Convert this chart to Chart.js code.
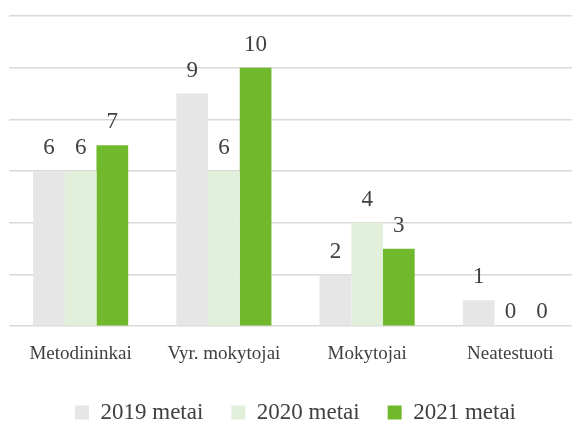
<!DOCTYPE html>
<html>
<head>
<meta charset="utf-8">
<script src="https://cdn.jsdelivr.net/npm/chart.js@4.4.0/dist/chart.umd.min.js"></script>
<style>
  html, body { margin: 0; padding: 0; background: #fff; overflow: hidden; }
  #wrap { width: 582px; height: 434px; }
</style>
</head>
<body>
<div id="wrap"><canvas id="barChart"></canvas></div>
<script>
const categories = ['Metodininkai', 'Vyr. mokytojai', 'Mokytojai', 'Neatestuoti'];
const series = ['2019 metai', '2020 metai', '2021 metai'];
const values2019 = [6, 9, 2, 1];
const values2020 = [6, 6, 4, 0];
const values2021 = [7, 10, 3, 0];
const colors = ['#e6e6e6', '#e2efda', '#70b82c'];

const serif = '"Liberation Serif", "DejaVu Serif", serif';

// etiketes virs stulpeliu
const valueLabels = {
    id: 'valueLabels',
    afterDatasetsDraw(chart) {
        const ctx = chart.ctx;
        ctx.save();
        ctx.font = '23px ' + serif;
        ctx.fillStyle = '#404040';
        ctx.textAlign = 'center';
        ctx.textBaseline = 'alphabetic';
        chart.data.datasets.forEach((ds, i) => {
            chart.getDatasetMeta(i).data.forEach((bar, j) => {
                const v = ds.data[j];
                const gap = v === 0 ? 8 : 17;
                ctx.fillText(String(v), bar.x, bar.y - gap);
            });
        });
        ctx.restore();
    }
};

new Chart(document.getElementById('barChart').getContext('2d'), {
    type: 'bar',
    data: {
        labels: categories,
        datasets: [
            { label: series[0], data: values2019, backgroundColor: colors[0] },
            { label: series[1], data: values2020, backgroundColor: colors[1] },
            { label: series[2], data: values2021, backgroundColor: colors[2] }
        ]
    },
    options: {
        responsive: true,
        maintainAspectRatio: false,
        animation: false,
        datasets: {
            bar: { barPercentage: 1, categoryPercentage: 0.664 }
        },
        layout: { padding: { top: 16, left: 9, right: 0, bottom: 0 } },
        scales: {
            x: {
                grid: { display: false },
                border: { display: false },
                ticks: {
                    color: '#404040',
                    font: { family: serif, size: 19 },
                    padding: 8
                }
            },
            y: {
                min: 0,
                max: 12,
                ticks: { display: false, stepSize: 2 },
                border: { display: false },
                grid: { color: '#d9d9d9', lineWidth: 1.5, drawTicks: false }
            }
        },
        plugins: {
            legend: {
                position: 'bottom',
                labels: {
                    color: '#404040',
                    font: { family: serif, size: 23 },
                    boxWidth: 14,
                    boxHeight: 14,
                    padding: 28
                }
            },
            tooltip: { enabled: false }
        }
    },
    plugins: [valueLabels]
});
</script>
</body>
</html>
